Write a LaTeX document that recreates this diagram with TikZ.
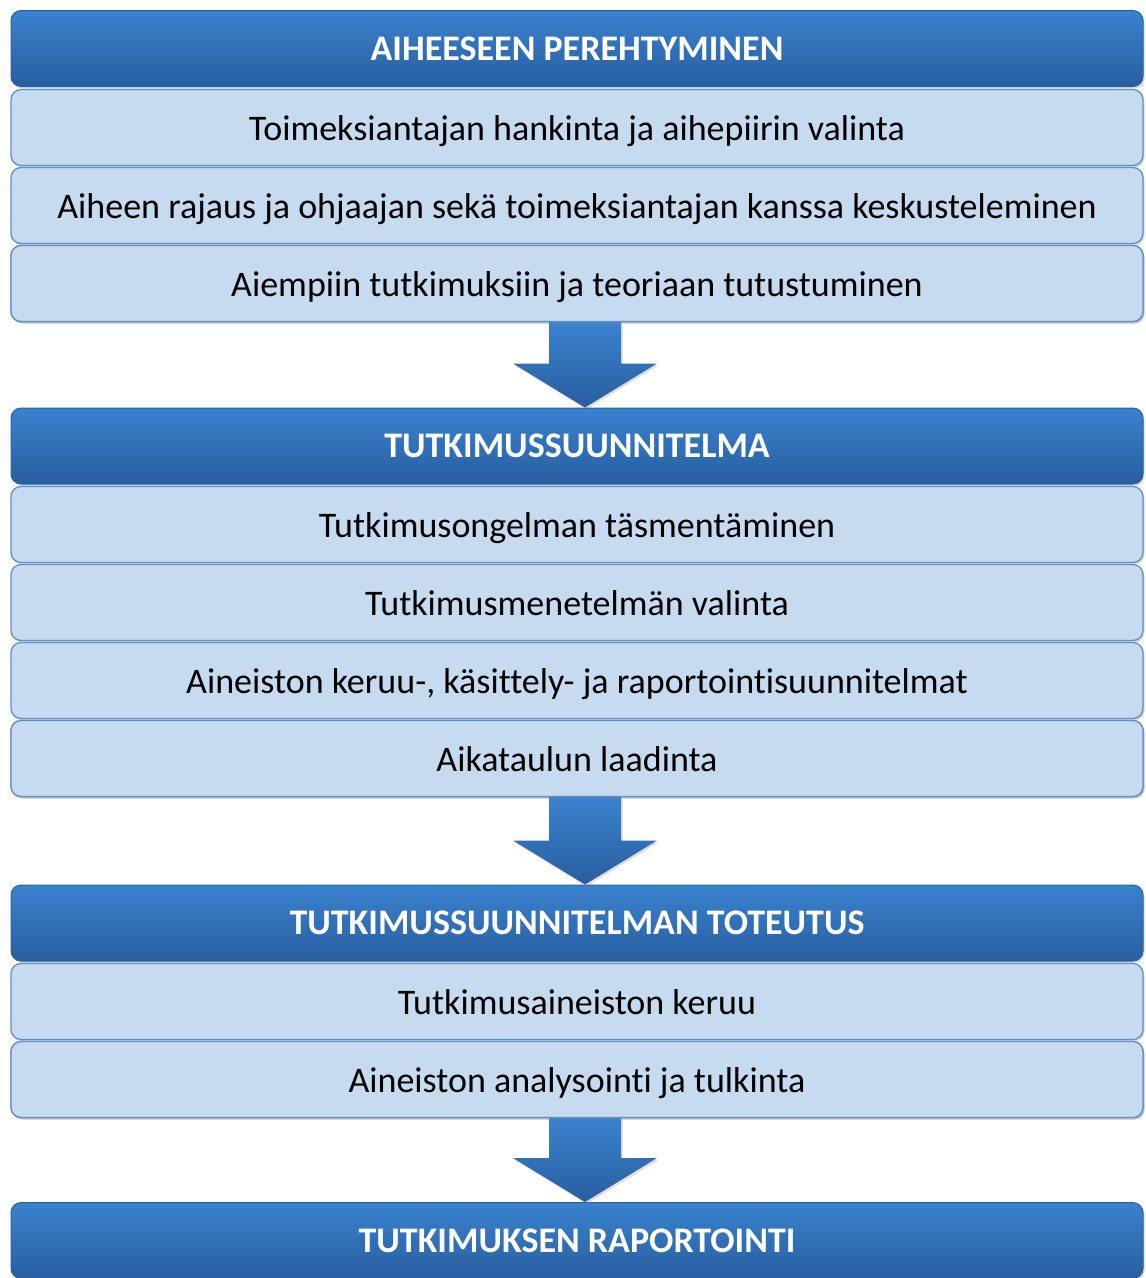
\documentclass[tikz,border=0pt]{standalone}
\usepackage{fontspec}
\setmainfont{Carlito}[Ligatures={NoCommon}]
\usetikzlibrary{calc,shadows}
\definecolor{hdrTop}{HTML}{3A82CF}
\definecolor{hdrBot}{HTML}{285E9F}
\definecolor{hdrLine}{HTML}{2A629F}
\definecolor{itemFill}{HTML}{C6DBF0}
\definecolor{itemLine}{HTML}{5E8FC8}
\tikzset{
  boxbase/.style={rectangle, rounded corners=10pt, minimum width=1132pt,
    minimum height=76pt, inner sep=0pt, align=center, text depth=0pt,
    drop shadow={opacity=0.28, shadow xshift=1.5pt, shadow yshift=-2pt}},
  header/.style={boxbase, top color=hdrTop, bottom color=hdrBot,
    draw=hdrLine, line width=1pt, text=white,
    font=\bfseries\fontsize{36}{42}\selectfont},
  item/.style={boxbase, fill=itemFill, draw=itemLine, line width=1.3pt,
    text=black, font=\fontsize{36}{42}\selectfont},
  flowarrow/.style={top color=hdrTop, bottom color=hdrBot, draw=none,
    drop shadow={opacity=0.25, shadow xshift=1.5pt, shadow yshift=-2pt}}
}
% block arrow running from the bottom of one box to the top of the next,
% its axis set 8pt right of the box centre line
\newcommand{\blockarrow}[2]{%
  \path[flowarrow]
    ($(#1.south)+(-28,0)$) -- ($(#2.north)+(-28,-44)$) -- ($(#2.north)+(-64,-44)$)
    -- ($(#2.north)+(8,0)$) -- ($(#2.north)+(80,-44)$) -- ($(#2.north)+(44,-44)$)
    -- ($(#1.south)+(44,0)$) -- cycle;}
\begin{document}
\begin{tikzpicture}[x=1pt,y=-1pt]
\useasboundingbox (0,0) rectangle (1146,1278);

% stage 1
\node[header] (h1) at (577,48.5) {AIHEESEEN PEREHTYMINEN};
\node[item] (a1) at (577,127.5) {Toimeksiantajan hankinta ja aihepiirin valinta};
\node[item] (a2) at (577,205.5) {Aiheen rajaus ja ohjaajan sekä toimeksiantajan kanssa keskusteleminen};
\node[item] (a3) at (577,283.5) {Aiempiin tutkimuksiin ja teoriaan tutustuminen};

% stage 2
\node[header] (h2) at (577,446) {TUTKIMUSSUUNNITELMA};
\node[item] (b1) at (577,524.5) {Tutkimusongelman täsmentäminen};
\node[item] (b2) at (577,602.5) {Tutkimusmenetelmän valinta};
\node[item] (b3) at (577,680.5) {Aineiston keruu-, käsittely- ja raportointisuunnitelmat};
\node[item] (b4) at (577,758.5) {Aikataulun laadinta};

% stage 3
\node[header] (h3) at (577,923) {TUTKIMUSSUUNNITELMAN TOTEUTUS};
\node[item] (c1) at (577,1001.5) {Tutkimusaineiston keruu};
\node[item] (c2) at (577,1079.5) {Aineiston analysointi ja tulkinta};

% stage 4
\node[header] (h4) at (577,1240.5) {TUTKIMUKSEN RAPORTOINTI};

% arrows between the stages
\blockarrow{a3}{h2}
\blockarrow{b4}{h3}
\blockarrow{c2}{h4}
% redraw the boxes the arrow shafts start under
\node[item] at (a3) {Aiempiin tutkimuksiin ja teoriaan tutustuminen};
\node[item] at (b4) {Aikataulun laadinta};
\node[item] at (c2) {Aineiston analysointi ja tulkinta};
\end{tikzpicture}
\end{document}
